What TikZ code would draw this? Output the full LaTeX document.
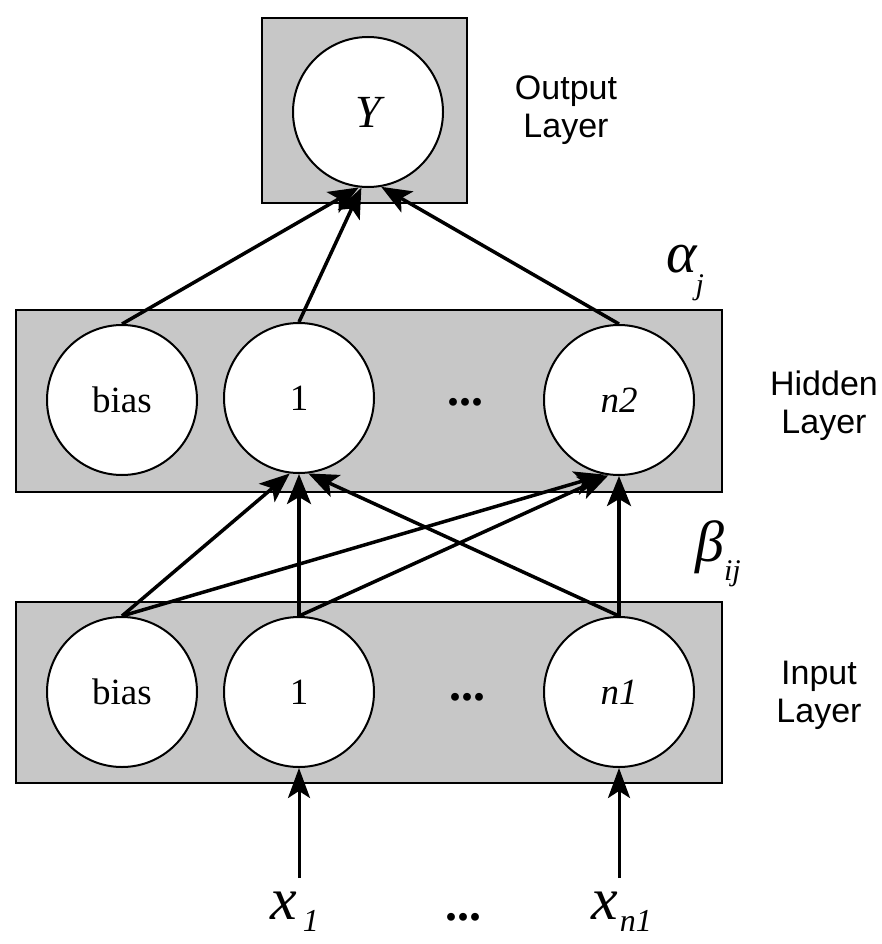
\documentclass[tikz,border=0pt]{standalone}
\usepackage{fontspec}
\setmainfont{Liberation Serif}
\newfontfamily\labfont{Liberation Sans}
\usetikzlibrary{arrows.meta}
\begin{document}
\begin{tikzpicture}[x=1pt,y=-1pt,
  layerbox/.style={draw=black, line width=2pt, fill=black!22},
  neuron/.style={circle, draw=black, line width=2pt, fill=white, minimum size=150pt, inner sep=0pt, font=\fontsize{37}{37}\selectfont},
  wconn/.style={line width=3.5pt, -{Stealth[length=30pt,width=24pt,inset=7pt]}},
  inconn/.style={line width=3pt, -{Stealth[length=30pt,width=22pt,inset=7pt]}},
  laylabel/.style={align=center, anchor=north, inner sep=0pt, font=\labfont\fontsize{34}{38}\selectfont},
  dotsl/.style={anchor=base, inner sep=0pt, font=\bfseries\fontsize{48}{48}\selectfont},
  mathlab/.style={anchor=base west, inner sep=0pt},
]
\useasboundingbox (0,0) rectangle (881,944);
% layer boxes
\draw[layerbox] (262,18) rectangle (467,203);
\draw[layerbox] (16,310) rectangle (722,492);
\draw[layerbox] (16,602) rectangle (722,783);
% neurons
\node[neuron, font=\fontsize{46}{46}\selectfont\itshape] (Y) at (368,112) {Y};
\node[neuron] (hb) at (122,400) {bias};
\node[neuron] (h1) at (299,398) {1};
\node[neuron] (hn) at (619,400) {\textit{n2}};
\node[neuron] (ib) at (122,692) {bias};
\node[neuron] (i1) at (299,692) {1};
\node[neuron] (in) at (619,692) {\textit{n1}};
% dots
\node[dotsl] (hdots) at (465,405) {...};
\node[dotsl] (idots) at (467,700) {...};
\node[dotsl] (xdots) at (463,920) {...};
% layer labels
\node[laylabel] (outlab) at (566,76) {Output\\Layer};
\node[laylabel] (hidlab) at (824,371) {Hidden\\Layer};
\node[laylabel] (inlab) at (819,661) {Input\\Layer};
% weight labels
\node[mathlab] (alpha) at (666,272) {\fontsize{58}{58}\selectfont\textit{α}\hspace{-2pt}\raisebox{-22pt}{\fontsize{30}{30}\selectfont\textit{j}}};
\node[mathlab] (beta) at (695,561) {\fontsize{58}{58}\selectfont\textit{β}\raisebox{-19pt}{\fontsize{30}{30}\selectfont\textit{ij}}};
% input labels
\node[mathlab] (x1) at (270,919) {\fontsize{60}{60}\selectfont\textit{x}\hspace{6pt}\raisebox{-12pt}{\fontsize{32}{32}\selectfont\textit{1}}};
\node[mathlab] (xn) at (591,919) {\fontsize{60}{60}\selectfont\textit{x}\hspace{2pt}\raisebox{-12pt}{\fontsize{32}{32}\selectfont\textit{n1}}};
\coordinate (c1) at (299,878);
\coordinate (cn) at (619,878);
% connectors hidden -> output
\draw[wconn] (hb.north) -- (Y.-97);
\draw[wconn] (h1.north) -- (Y.-95);
\draw[wconn] (hn.north) -- (Y.-80);
% connectors input -> hidden
\draw[wconn] (ib.north) -- (h1.-97);
\draw[wconn] (ib.north) -- (hn.-101);
\draw[wconn] (i1.north) -- (h1.south);
\draw[wconn] (i1.north) -- (hn.-98);
\draw[wconn] (in.north) -- (h1.-83);
\draw[wconn] (in.north) -- (hn.south);
% inputs
\draw[inconn] (c1) -- (i1.south);
\draw[inconn] (cn) -- (in.south);
\end{tikzpicture}
\end{document}
